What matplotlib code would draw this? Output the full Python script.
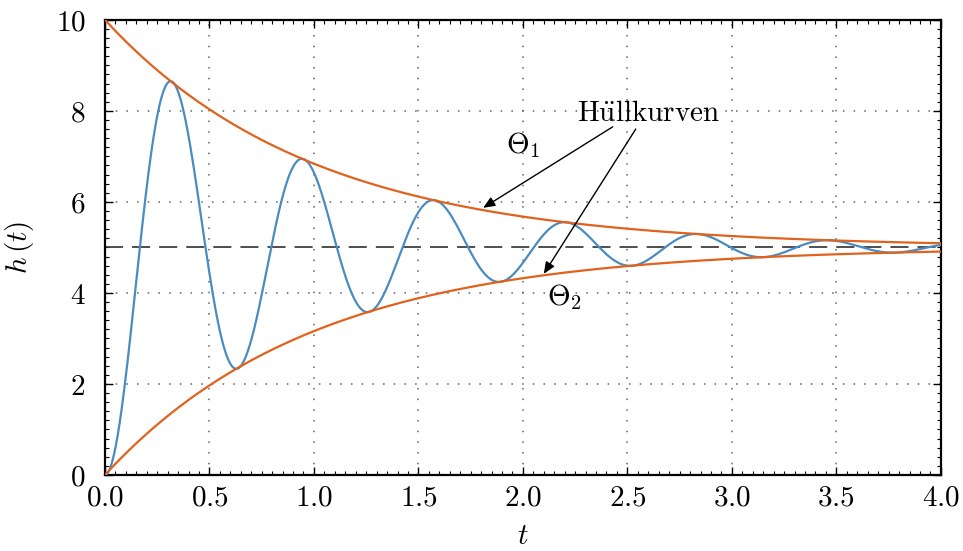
import numpy as np
import matplotlib
matplotlib.use("Agg")
import matplotlib.pyplot as plt
from matplotlib.ticker import FixedLocator, FixedFormatter, MultipleLocator

# ---- data ----
h_final = 5.0          # steady-state value (dashed line)
decay = 1.0            # envelope decay rate (1/s)
omega = 10.0           # oscillation angular frequency (rad/s)
t_max = 4.0

x_ticks = [0.0, 0.5, 1.0, 1.5, 2.0, 2.5, 3.0, 3.5, 4.0]
x_tick_labels = ["0.0", "0.5", "1.0", "1.5", "2.0", "2.5", "3.0", "3.5", "4.0"]
y_ticks = [0, 2, 4, 6, 8, 10]
y_tick_labels = ["0", "2", "4", "6", "8", "10"]

label_text = "Hüllkurven"
theta1_pos = (2.0, 7.25)
theta2_pos = (2.2, 3.9)
text_pos = (2.6, 7.95)
arrow1_tail, arrow1_head = (2.43, 7.65), (1.81, 5.87)
arrow2_tail, arrow2_head = (2.54, 7.6), (2.10, 4.42)

# ---- curves ----
t = np.linspace(0, t_max, 2000)
env = h_final * np.exp(-decay * t)
theta1 = h_final + env
theta2 = h_final - env
h = h_final * (1 - np.exp(-decay * t) * (np.cos(omega * t) + decay / omega * np.sin(omega * t)))

plt.rcParams["mathtext.fontset"] = "cm"
plt.rcParams["font.family"] = ["DejaVu Serif"]

blue = "#4a8cc0"
orange = "#e0621c"
fs = 21

fig = plt.figure(figsize=(9.63, 5.51), dpi=100)
ax = fig.add_axes([0.109, 0.138, 0.868, 0.826])

ax.axhline(h_final, color="#404040", lw=1.3, ls=(0, (10, 5)), zorder=2)
ax.plot(t, h, color=blue, lw=1.6, zorder=3)
ax.plot(t, theta1, color=orange, lw=1.6, zorder=4)
ax.plot(t, theta2, color=orange, lw=1.6, zorder=4)

ax.set_xlim(0, t_max)
ax.set_ylim(0, 10)

ax.xaxis.set_major_locator(FixedLocator(x_ticks))
ax.xaxis.set_major_formatter(FixedFormatter(["$" + s + "$" for s in x_tick_labels]))
ax.yaxis.set_major_locator(FixedLocator(y_ticks))
ax.yaxis.set_major_formatter(FixedFormatter(["$" + s + "$" for s in y_tick_labels]))
ax.xaxis.set_minor_locator(MultipleLocator(0.05))
ax.yaxis.set_minor_locator(MultipleLocator(0.2))

ax.tick_params(which="both", direction="in", top=True, right=True, labelsize=fs)
ax.tick_params(which="major", length=6, width=1.0)
ax.tick_params(which="minor", length=3, width=0.8)
ax.tick_params(axis="x", which="major", pad=6)
ax.tick_params(axis="y", which="major", pad=14)
for s in ax.spines.values():
    s.set_linewidth(1.6)

ax.grid(True, which="major", color="#606060", ls=(0, (1, 6)), lw=1.1)

ax.set_xlabel("$t$", fontsize=fs, labelpad=8)
ax.set_ylabel("$h\\,(t)$", fontsize=fs, labelpad=14)

ax.text(*text_pos, r"$\mathrm{H\ddot{u}llkurven}$", fontsize=fs, ha="center", va="center")
ax.text(*theta1_pos, r"$\Theta_1$", fontsize=fs, ha="center", va="center")
ax.text(*theta2_pos, r"$\Theta_2$", fontsize=fs, ha="center", va="center")

for tail, head in [(arrow1_tail, arrow1_head), (arrow2_tail, arrow2_head)]:
    ax.annotate("", xy=head, xytext=tail,
                arrowprops=dict(arrowstyle="-|>,head_length=0.7,head_width=0.3",
                                color="black", lw=1.0, shrinkA=0, shrinkB=0),
                zorder=6)

fig.savefig("out.png", dpi=100)
